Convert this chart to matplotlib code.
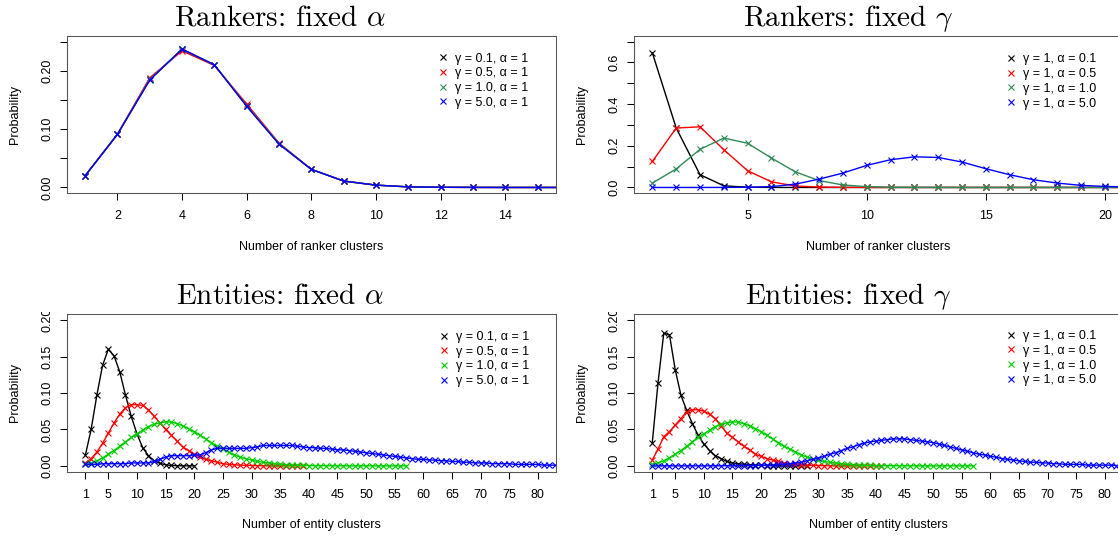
import matplotlib
matplotlib.use("Agg")
import matplotlib.pyplot as plt
from matplotlib.lines import Line2D
from matplotlib.transforms import Bbox, TransformedBbox

plt.rcParams['mathtext.fontset'] = 'cm'
SANS = ['Liberation Sans', 'DejaVu Sans']
plt.rcParams['font.family'] = SANS

# ---------------- data ----------------
# Rankers, fixed alpha (alpha = 1)
rk_a_x = list(range(1, 17))
rk_a_g01 = [0.020, 0.091, 0.185, 0.237, 0.210, 0.140, 0.075, 0.031, 0.011, 0.004, 0.001, 0.0003, 0.0001, 0.0, 0.0, 0.0]
rk_a_g05 = [0.020, 0.091, 0.188, 0.234, 0.209, 0.143, 0.076, 0.031, 0.011, 0.004, 0.001, 0.0003, 0.0001, 0.0, 0.0, 0.0]
rk_a_g10 = [0.020, 0.091, 0.185, 0.237, 0.210, 0.140, 0.075, 0.031, 0.011, 0.004, 0.001, 0.0003, 0.0001, 0.0, 0.0, 0.0]
rk_a_g50 = [0.020, 0.091, 0.184, 0.237, 0.210, 0.139, 0.074, 0.031, 0.011, 0.004, 0.001, 0.0003, 0.0001, 0.0, 0.0, 0.0]
rk_a_labels = ["\u03b3 = 0.1, \u03b1 = 1", "\u03b3 = 0.5, \u03b1 = 1",
               "\u03b3 = 1.0, \u03b1 = 1", "\u03b3 = 5.0, \u03b1 = 1"]

# Rankers, fixed gamma (gamma = 1)
rk_g_x = list(range(1, 23))
rk_g_a01 = [0.645, 0.285, 0.061, 0.008, 0.001, 0.0001, 0.0, 0.0, 0.0, 0.0, 0.0,
            0.0, 0.0, 0.0, 0.0, 0.0, 0.0, 0.0, 0.0, 0.0, 0.0, 0.0]
rk_g_a05 = [0.125, 0.285, 0.291, 0.181, 0.080, 0.027, 0.007, 0.002, 0.0005, 0.0001, 0.0,
            0.0, 0.0, 0.0, 0.0, 0.0, 0.0, 0.0, 0.0, 0.0, 0.0, 0.0]
rk_g_a10 = [0.021, 0.089, 0.183, 0.237, 0.212, 0.141, 0.075, 0.033, 0.012, 0.004, 0.001,
            0.0003, 0.0001, 0.0, 0.0, 0.0, 0.0, 0.0, 0.0, 0.0, 0.0, 0.0]
rk_g_a50 = [0.0, 0.0, 0.0, 0.0002, 0.001, 0.004, 0.016, 0.040, 0.069, 0.106, 0.133,
            0.147, 0.144, 0.122, 0.090, 0.061, 0.037, 0.021, 0.010, 0.005, 0.002, 0.001]
rk_g_labels = ["\u03b3 = 1, \u03b1 = 0.1", "\u03b3 = 1, \u03b1 = 0.5",
               "\u03b3 = 1, \u03b1 = 1.0", "\u03b3 = 1, \u03b1 = 5.0"]

# Entities, shared green series (gamma = 1, alpha = 1)
en_g1_a1 = [0.002, 0.004, 0.007, 0.011, 0.016, 0.021, 0.027, 0.033, 0.039, 0.044,
            0.049, 0.054, 0.057, 0.059, 0.0605, 0.060, 0.058, 0.055, 0.051, 0.047,
            0.042, 0.037, 0.032, 0.027, 0.023, 0.019, 0.015, 0.012, 0.010, 0.008,
            0.006, 0.005, 0.004, 0.003, 0.002, 0.0015, 0.001, 0.0008, 0.0006, 0.0004,
            0.0003, 0.0002, 0.0002, 0.0001, 0.0001, 0.0001, 0.0, 0.0, 0.0, 0.0,
            0.0, 0.0, 0.0, 0.0, 0.0, 0.0, 0.0]

# Entities, fixed alpha
en_a_g01 = [0.015, 0.050, 0.097, 0.138, 0.160, 0.151, 0.129, 0.097, 0.068, 0.044,
            0.025, 0.014, 0.007, 0.0035, 0.0015, 0.0006, 0.0002, 0.0001, 0.0, 0.0]
en_a_g05 = [0.004, 0.010, 0.019, 0.031, 0.045, 0.059, 0.071, 0.080, 0.084, 0.084,
            0.083, 0.077, 0.068, 0.059, 0.050, 0.042, 0.034, 0.026, 0.021, 0.016,
            0.012, 0.009, 0.007, 0.005, 0.003, 0.002, 0.0015, 0.001, 0.0007, 0.0005,
            0.0003, 0.0002, 0.0001, 0.0001, 0.0, 0.0, 0.0, 0.0, 0.0]
en_a_g10 = en_g1_a1
en_a_g50 = [0.002, 0.002, 0.002, 0.003, 0.003, 0.003, 0.003, 0.003, 0.004, 0.004,
            0.004, 0.004, 0.006, 0.009, 0.012, 0.014, 0.014, 0.014, 0.014, 0.015,
            0.015, 0.018, 0.022, 0.024, 0.024, 0.024, 0.024, 0.024, 0.024, 0.025,
            0.026, 0.028, 0.028, 0.028, 0.028, 0.028, 0.028, 0.027, 0.026, 0.025,
            0.025, 0.024, 0.024, 0.023, 0.022, 0.022, 0.021, 0.020, 0.019, 0.018,
            0.017, 0.016, 0.015, 0.014, 0.013, 0.012, 0.011, 0.010, 0.009, 0.009,
            0.008, 0.008, 0.007, 0.007, 0.006, 0.006, 0.005, 0.005, 0.004, 0.004,
            0.004, 0.003, 0.003, 0.003, 0.003, 0.002, 0.002, 0.002, 0.002, 0.002,
            0.001, 0.001, 0.001]
en_a_labels = rk_a_labels

# Entities, fixed gamma
en_g_a01 = [0.032, 0.114, 0.182, 0.180, 0.132, 0.097, 0.076, 0.058, 0.042, 0.030,
            0.021, 0.014, 0.010, 0.006, 0.004, 0.003, 0.002, 0.0015, 0.001, 0.0007,
            0.0005, 0.0003, 0.0002, 0.0001, 0.0001, 0.0, 0.0, 0.0]
en_g_a05 = [0.008, 0.023, 0.040, 0.047, 0.056, 0.065, 0.074, 0.077, 0.077, 0.075,
            0.071, 0.065, 0.055, 0.045, 0.039, 0.033, 0.027, 0.022, 0.016, 0.013,
            0.010, 0.008, 0.006, 0.004, 0.003, 0.002, 0.0015, 0.001, 0.0007, 0.0005,
            0.0003, 0.0002, 0.0001, 0.0001, 0.0, 0.0, 0.0, 0.0, 0.0, 0.0, 0.0]
en_g_a10 = en_g1_a1
en_g_a50 = [0.0, 0.0, 0.0, 0.0, 0.0, 0.0, 0.0, 0.0, 0.0, 0.0,
            0.0001, 0.0001, 0.0001, 0.0002, 0.0002, 0.0003, 0.0003, 0.0004, 0.0005, 0.0007,
            0.001, 0.001, 0.002, 0.002, 0.003, 0.004, 0.005, 0.007, 0.009, 0.011,
            0.013, 0.016, 0.018, 0.021, 0.024, 0.026, 0.029, 0.031, 0.033, 0.034,
            0.035, 0.036, 0.037, 0.037, 0.037, 0.036, 0.035, 0.034, 0.033, 0.032,
            0.030, 0.028, 0.026, 0.024, 0.022, 0.020, 0.018, 0.016, 0.015, 0.013,
            0.012, 0.010, 0.009, 0.008, 0.007, 0.006, 0.005, 0.005, 0.004, 0.004,
            0.003, 0.003, 0.002, 0.002, 0.002, 0.002, 0.001, 0.001, 0.001, 0.001,
            0.001, 0.0005, 0.0005]
en_g_labels = rk_g_labels

top_colors = ['black', '#FF0000', '#2E8B57', '#0000FF']
bot_colors = ['black', '#FF0000', '#00CD00', '#0000FF']

# ---------------- layout ----------------
W, H = 1118, 538
fig = plt.figure(figsize=(W / 100, H / 100), dpi=100)
FS = 9
LFS = 9
LW = 1.0


def rect(l, t, r, b):
    return [l / W, 1 - b / H, (r - l) / W, (b - t) / H]


panels = [
    dict(box=(67, 35.7, 555.7, 193.3), series=[rk_a_g01, rk_a_g05, rk_a_g10, rk_a_g50],
         labels=rk_a_labels, colors=top_colors, xlim=(1, 15), ylim=(0, 0.25),
         xticks=[2, 4, 6, 8, 10, 12, 14], yticks=[0, 0.05, 0.10, 0.15, 0.20, 0.25],
         ylabels=['0.00', '', '0.10', '', '0.20', ''],
         title=r'Rankers: fixed $\alpha$', tx=280, ty=26,
         xlabel='Number of ranker clusters', leg=(436.4, 52.6), clip_top=None),
    dict(box=(634.3, 35.7, 1123, 193.3), series=[rk_g_a01, rk_g_a05, rk_g_a10, rk_g_a50],
         labels=rk_g_labels, colors=top_colors, xlim=(1, 20), ylim=(0, 0.7),
         xticks=[5, 10, 15, 20], yticks=[0, 0.1, 0.2, 0.3, 0.4, 0.5, 0.6, 0.7],
         ylabels=['0.0', '', '0.2', '', '0.4', '', '0.6', ''],
         title=r'Rankers: fixed $\gamma$', tx=848, ty=26,
         xlabel='Number of ranker clusters', leg=(1004.7, 53.3), clip_top=None),
    dict(box=(67.3, 314.3, 556, 471.7), series=[en_a_g01, en_a_g05, en_a_g10, en_a_g50],
         labels=en_a_labels, colors=bot_colors, xlim=(1, 80), ylim=(0, 0.2),
         xticks=[1] + list(range(5, 85, 5)), yticks=[0, 0.05, 0.10, 0.15, 0.20],
         ylabels=['0.00', '0.05', '0.10', '0.15', '0.20'],
         title=r'Entities: fixed $\alpha$', tx=280, ty=304.5,
         xlabel='Number of entity clusters', leg=(437.7, 331.0), clip_top=312),
    dict(box=(634.2, 314.3, 1122.9, 471.7), series=[en_g_a01, en_g_a05, en_g_a10, en_g_a50],
         labels=en_g_labels, colors=bot_colors, xlim=(1, 80), ylim=(0, 0.2),
         xticks=[1] + list(range(5, 85, 5)), yticks=[0, 0.05, 0.10, 0.15, 0.20],
         ylabels=['0.00', '0.05', '0.10', '0.15', '0.20'],
         title=r'Entities: fixed $\gamma$', tx=848, ty=304.5,
         xlabel='Number of entity clusters', leg=(1004.4, 330.0), clip_top=312),
]

for p in panels:
    l, t, r, b = p['box']
    ax = fig.add_axes(rect(l, t, r, b))
    for ys, c in zip(p['series'], p['colors']):
        xs = list(range(1, len(ys) + 1))
        ax.plot(xs, ys, color=c, lw=LW, marker='x', ms=5.0, mew=0.8)
    x0, x1 = p['xlim']
    dx = 0.04 * (x1 - x0)
    ax.set_xlim(x0 - dx, x1 + dx)
    y0, y1 = p['ylim']
    dy = 0.04 * (y1 - y0)
    ax.set_ylim(y0 - dy, y1 + dy)
    ax.set_xticks(p['xticks'])
    ax.set_yticks(p['yticks'])
    ax.set_yticklabels(p['ylabels'])
    ax.tick_params(axis='both', direction='out', length=5, width=0.75, color='black',
                   labelsize=FS)
    ax.tick_params(axis='x', pad=7.2)
    ax.tick_params(axis='y', pad=5.0, labelrotation=90)
    for lab in ax.get_yticklabels():
        lab.set_verticalalignment('center')
    for s in ax.spines.values():
        s.set_color('#555555')
        s.set_linewidth(0.75)
    # R-style axis lines from first to last tick
    xt = [v for v in p['xticks'] if ax.get_xlim()[0] <= v <= ax.get_xlim()[1]]
    ax.plot([xt[0], xt[-1]], [0, 0], transform=ax.get_xaxis_transform(),
            color='black', lw=0.75, clip_on=False)
    ax.plot([0, 0], [p['yticks'][0], p['yticks'][-1]], transform=ax.get_yaxis_transform(),
            color='black', lw=0.75, clip_on=False)
    if p['clip_top'] is not None:
        cb = TransformedBbox(Bbox([[0, 0], [1, 1 - p['clip_top'] / H]]), fig.transFigure)
        tk = ax.yaxis.get_major_ticks()[-1]
        tk.label1.set_clip_box(cb)
        tk.label1.set_clip_on(True)
    # legend
    handles = [Line2D([], [], ls='none', marker='x', ms=5.0, mew=0.8, color=c)
               for c in p['colors']]
    ax.legend(handles, p['labels'], loc='upper left',
              bbox_to_anchor=(p['leg'][0] / W, 1 - p['leg'][1] / H),
              bbox_transform=fig.transFigure, frameon=False,
              prop={'family': SANS, 'size': LFS}, handlelength=1.0,
              handletextpad=0.45, labelspacing=0.22, borderpad=0, borderaxespad=0)
    # labels and title
    cx = (l + r) / 2
    fig.text(cx / W, 1 - (b + 53.4) / H, p['xlabel'], ha='center', va='center', fontsize=FS)
    fig.text((l - 52) / W, 1 - ((t + b) / 2) / H, 'Probability', rotation=90,
             ha='center', va='center', fontsize=FS)
    fig.text(p['tx'] / W, 1 - p['ty'] / H, p['title'], ha='center', va='baseline',
             fontsize=21, family='cmr10')

fig.savefig('out.png', dpi=100)
